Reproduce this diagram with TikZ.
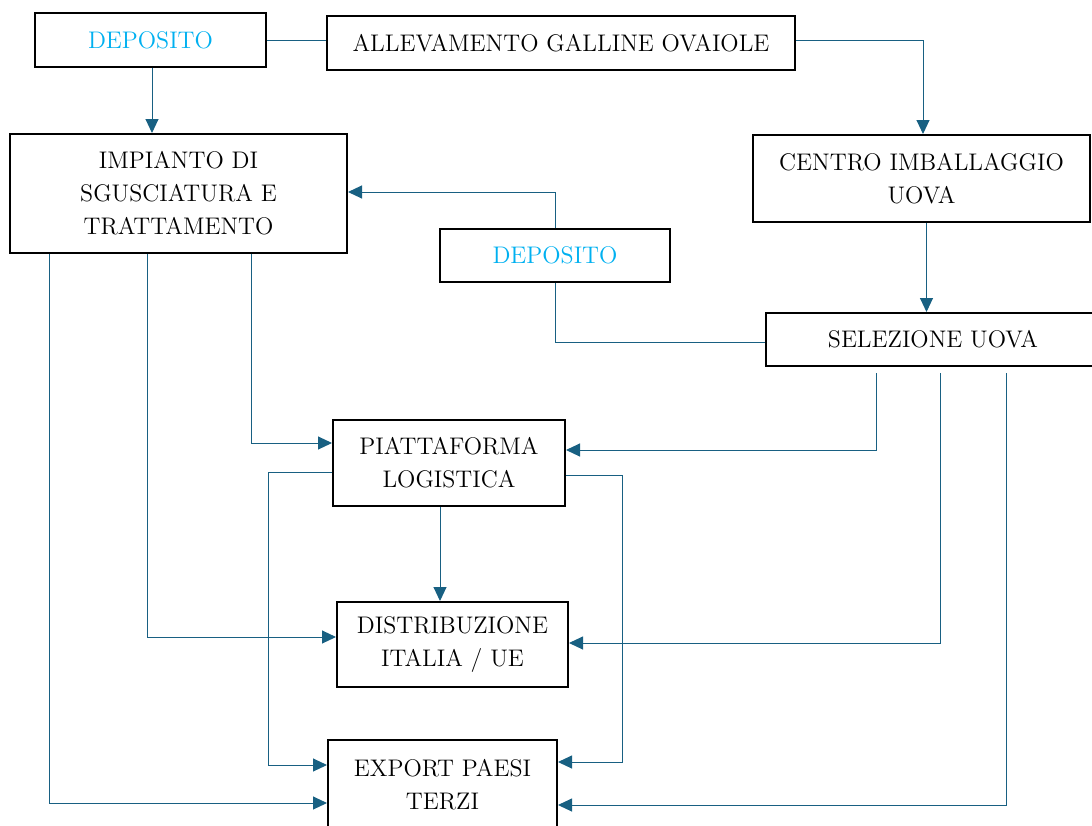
\documentclass[tikz,border=0pt]{standalone}
\definecolor{flowblue}{RGB}{24, 96, 130}
\definecolor{cyan1}{RGB}{0, 176, 240}
\usepackage{tikz}
\usetikzlibrary{arrows.meta, calc}

\tikzset{
  box/.style={draw=black, line width=1pt, inner sep=0pt, align=center,
    font=\fontsize{12}{16.5}\selectfont},
  link/.style={draw=flowblue, line width=0.5pt},
  flow/.style={link, -{Triangle[length=7pt, width=6.5pt]}}
}

\begin{document}
\begin{tikzpicture}[x=0.5pt, y=-0.5pt]
  \clip (0,0) rectangle (1092,825);

  % upper row
  \node[box, minimum width=115.5pt, minimum height=27pt, text=cyan1] (dep1) at (150.5, 40) {DEPOSITO};
  \node[box, minimum width=234pt, minimum height=27pt] (allev) at (561, 43) {ALLEVAMENTO GALLINE OVAIOLE};
  \node[box, minimum width=168.5pt, minimum height=59.5pt] (imp) at (178.5, 193.5) {IMPIANTO DI\\SGUSCIATURA E\\TRATTAMENTO};
  \node[box, minimum width=168.5pt, minimum height=43.5pt] (centro) at (921.5, 178.5) {CENTRO IMBALLAGGIO\\UOVA};
  \node[box, minimum width=115pt, minimum height=26.5pt, text=cyan1] (dep2) at (555, 255.5) {DEPOSITO};
  \node[box, minimum width=167pt, minimum height=26.5pt] (sel) at (933, 339.5) {SELEZIONE UOVA};

  % lower column
  \node[box, minimum width=116pt, minimum height=43pt] (piat) at (449, 463) {PIATTAFORMA\\LOGISTICA};
  \node[box, minimum width=115.5pt, minimum height=42.5pt] (distr) at (452.5, 644.5) {DISTRIBUZIONE\\ITALIA / UE};
  \node[box, minimum width=114.5pt, minimum height=45pt] (export) at (442.5, 785) {EXPORT PAESI\\TERZI};

  % connectors
  \draw[link] (dep1.east) -- (dep1.east -| allev.west);
  \draw[flow] ($(dep1.south)+(1.5,0)$) -- ($(imp.north -| dep1.south)+(1.5,0)$);
  \draw[flow] ($(allev.east)+(0,-3)$) -| ($(centro.north)+(1.5,0)$);
  \draw[flow] ($(centro.south)+(5,0)$) -- ($(sel.north -| centro.south)+(5,0)$);
  \draw[link] ($(sel.west)+(0,2.5)$) -| (dep2.south);
  \draw[flow] (dep2.north) |- ($(imp.east)+(0,-1.5)$);

  \draw[flow] ($(imp.south west)+(242,0)$) |- ($(piat.west)+(0,-20)$);
  \draw[flow] ($(imp.south west)+(138,0)$) |- ($(distr.west)+(0,-7.5)$);
  \draw[flow] ($(imp.south west)+(40,0)$) |- ($(export.west)+(0,18)$);

  \draw[flow] ($(sel.south west)+(111,6)$) |- ($(piat.east)+(0,-13)$);
  \draw[flow] ($(sel.south west)+(175,6)$) |- ($(distr.east)+(0,-1.5)$);
  \draw[flow] ($(sel.south west)+(241,6)$) |- ($(export.east)+(0,20)$);

  \draw[flow] ($(piat.west)+(0,9)$) -- ++(-64,0) |- ($(export.west)+(0,-20)$);
  \draw[flow] ($(piat.east)+(0,12)$) -- ++(56,0) |- ($(export.east)+(0,-23)$);
  \draw[flow] ($(piat.south)+(-9,0)$) -- ($(distr.north)+(-12.5,0)$);
\end{tikzpicture}
\end{document}
